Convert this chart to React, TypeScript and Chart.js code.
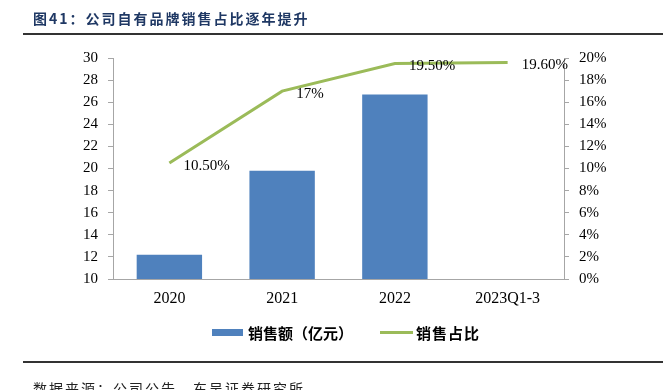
import React, { useEffect, useRef } from "react";
import { Chart, registerables } from "chart.js";

Chart.register(...registerables);

const categories = ["2020", "2021", "2022", "2023Q1-3"];
const salesValues: (number | null)[] = [12.2, 19.8, 26.7, null];
const shareValues = [10.5, 17, 19.5, 19.6];
const shareLabels = ["10.50%", "17%", "19.50%", "19.60%"];
const titleText = "图41：公司自有品牌销售占比逐年提升";
const sourceText = "数据来源：公司公告，东吴证券研究所";
const legendBar = "销售额（亿元）";
const legendLine = "销售占比";

const BLUE = "#4F81BD";
const GREEN = "#9BBB59";
const AXIS = "#A6A6A6";
const SERIF = "'Liberation Serif', 'Times New Roman', serif";
const CJK = "'Noto Sans CJK SC', sans-serif";

const labelPlugin = {
  id: "lineLabels",
  afterDatasetsDraw(chart: any) {
    const meta = chart.getDatasetMeta(1);
    const ctx = chart.ctx;
    ctx.save();
    ctx.font = `15px ${SERIF}`;
    ctx.fillStyle = "#000";
    ctx.textAlign = "left";
    ctx.textBaseline = "middle";
    meta.data.forEach((pt: any, i: number) => {
      ctx.fillText(shareLabels[i], pt.x + 14, pt.y + 3);
    });
    ctx.restore();
  },
};

export default function App() {
  const ref = useRef<HTMLCanvasElement>(null);
  useEffect(() => {
    const chart = new Chart(ref.current!, {
      type: "bar",
      data: {
        labels: categories,
        datasets: [
          {
            type: "bar",
            label: legendBar,
            data: salesValues,
            backgroundColor: BLUE,
            yAxisID: "y",
            categoryPercentage: 1,
            barPercentage: 0.58,
            order: 1,
          },
          {
            type: "line",
            label: legendLine,
            data: shareValues,
            borderColor: GREEN,
            backgroundColor: GREEN,
            borderWidth: 3,
            pointRadius: 0,
            tension: 0,
            yAxisID: "y1",
            order: 0,
          },
        ],
      },
      options: {
        responsive: false,
        animation: false,
        devicePixelRatio: 1,
        layout: { padding: { left: 0, right: 0, top: 58, bottom: 81 } },
        plugins: { legend: { display: false }, tooltip: { enabled: false } },
        scales: {
          x: {
            grid: { drawOnChartArea: false, drawTicks: false },
            border: { color: AXIS, width: 1 },
            ticks: { color: "#000", font: { family: SERIF, size: 16 }, padding: 10, maxRotation: 0 },
            afterFit: (s: any) => { s.height = 30; },
          },
          y: {
            position: "left",
            min: 10,
            max: 30,
            ticks: { stepSize: 2, color: "#000", font: { family: SERIF, size: 15 }, padding: 10 },
            grid: { drawOnChartArea: false, tickLength: 5, color: AXIS },
            border: { color: AXIS, width: 1 },
            afterFit: (s: any) => { s.width = 113; },
          },
          y1: {
            position: "right",
            min: 0,
            max: 20,
            ticks: {
              stepSize: 2,
              color: "#000",
              font: { family: SERIF, size: 15 },
              padding: 10,
              callback: (v: any) => `${v}%`,
            },
            grid: { drawOnChartArea: false, tickLength: 5, color: AXIS },
            border: { color: AXIS, width: 1 },
            afterFit: (s: any) => { s.width = 106; },
          },
        },
      },
      plugins: [labelPlugin],
    });
    return () => chart.destroy();
  }, []);

  return (
    <div style={{ position: "absolute", left: 0, top: 0, width: 670, height: 390, overflow: "hidden", background: "#fff" }}>
      <canvas ref={ref} width={670} height={390} style={{ position: "absolute", left: 0, top: 0 }} />
      <div style={{ position: "absolute", left: 33, top: 8, fontFamily: CJK, fontWeight: 700, fontSize: 14, letterSpacing: 2, color: "#1F3864", whiteSpace: "nowrap", lineHeight: "20px" }}>
        {titleText}
      </div>
      <div style={{ position: "absolute", left: 23, top: 33, width: 640, height: 2, background: "#333" }} />
      <div style={{ position: "absolute", left: 212, top: 322, display: "flex", alignItems: "center", fontFamily: CJK, fontWeight: 700, fontSize: 15, color: "#000", whiteSpace: "nowrap", height: 20 }}>
        <span style={{ display: "inline-block", width: 31, height: 7, background: BLUE, marginRight: 5 }} />
        <span>{legendBar}</span>
        <span style={{ display: "inline-block", width: 33, height: 3, background: GREEN, marginLeft: 27, marginRight: 3 }} />
        <span style={{ letterSpacing: 1 }}>{legendLine}</span>
      </div>
      <div style={{ position: "absolute", left: 23, top: 361, width: 640, height: 2, background: "#333" }} />
      <div style={{ position: "absolute", left: 33, top: 378, fontFamily: CJK, fontSize: 14, letterSpacing: 2, color: "#222", whiteSpace: "nowrap", lineHeight: "20px" }}>
        {sourceText}
      </div>
    </div>
  );
}
